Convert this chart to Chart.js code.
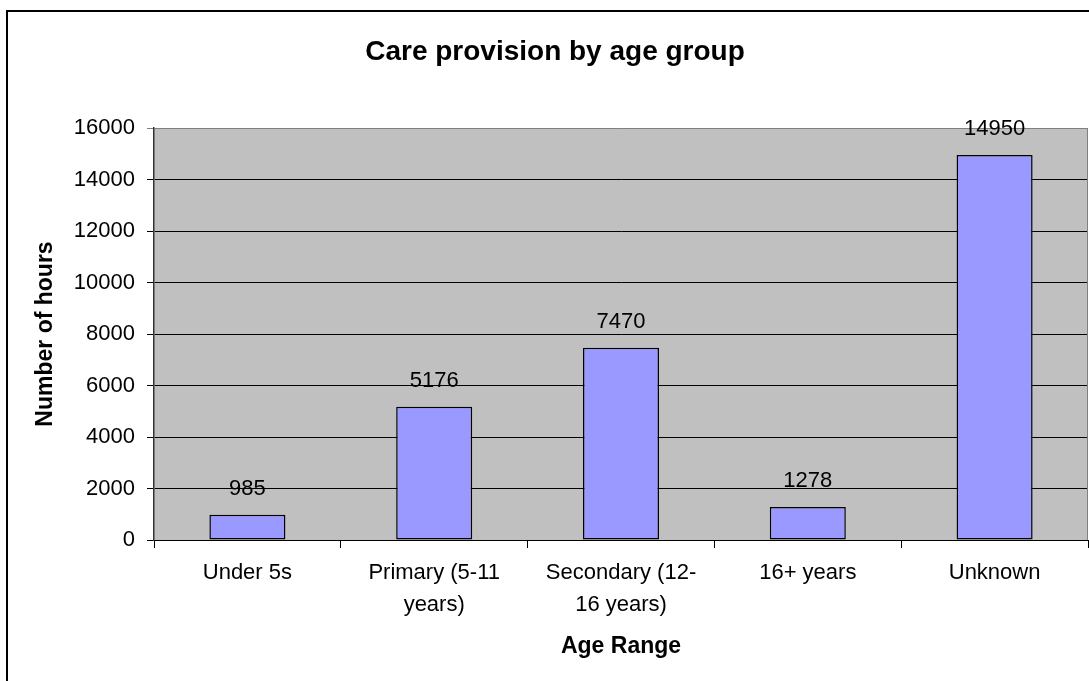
<!DOCTYPE html>
<html>
<head>
  <title>Care provision by age group</title>
  <script src="https://cdn.jsdelivr.net/npm/chart.js"></script>
  <style>
    body { margin: 0; background: #fff; }
    #wrap { width: 1089px; height: 681px; }
  </style>
</head>
<body>

<div id="wrap"><canvas id="careChart" width="1089" height="681"></canvas></div>

<script>
  // hours of care per age range
  const ageRanges = [
    'Under 5s',
    ['Primary (5-11', 'years)'],
    ['Secondary (12-', '16 years)'],
    '16+ years',
    'Unknown'
  ];
  const hours = [985, 5176, 7470, 1278, 14950];
  const yMax = 16000;
  const yStep = 2000;

  Chart.defaults.font.family = 'Arial, "Liberation Sans", sans-serif';
  Chart.defaults.color = '#000';

  // grey plot background, grey frame, outer border
  const frame = {
    id: 'frame',
    beforeDraw(chart) {
      const { ctx, chartArea: a } = chart;
      ctx.save();
      ctx.fillStyle = '#fff';
      ctx.fillRect(0, 0, chart.width, chart.height);
      ctx.fillStyle = '#c0c0c0';
      ctx.fillRect(a.left, a.top, a.right - a.left, a.bottom - a.top);
      ctx.restore();
    },
    beforeDatasetsDraw(chart) {
      const { ctx, chartArea: a } = chart;
      ctx.save();
      ctx.strokeStyle = '#808080';
      ctx.lineWidth = 1;
      ctx.beginPath();
      ctx.moveTo(a.right - 0.5, a.top);
      ctx.lineTo(a.right - 0.5, a.bottom);
      ctx.stroke();
      ctx.restore();
    },
    afterDraw(chart) {
      const ctx = chart.ctx;
      ctx.save();
      ctx.strokeStyle = '#000';
      ctx.lineWidth = 2;
      ctx.beginPath();
      ctx.moveTo(7, chart.height);
      ctx.lineTo(7, 11);
      ctx.lineTo(chart.width, 11);
      ctx.stroke();
      ctx.restore();
    }
  };

  // value above each bar
  const barValues = {
    id: 'barValues',
    afterDatasetsDraw(chart) {
      const ctx = chart.ctx;
      const meta = chart.getDatasetMeta(0);
      ctx.save();
      ctx.font = '22px Arial, "Liberation Sans", sans-serif';
      ctx.fillStyle = '#000';
      ctx.textAlign = 'center';
      ctx.textBaseline = 'middle';
      meta.data.forEach((bar, i) => {
        ctx.fillText(hours[i], bar.x, bar.y - 26);
      });
      ctx.restore();
    }
  };

  new Chart(document.getElementById('careChart'), {
    type: 'bar',
    data: {
      labels: ageRanges,
      datasets: [{
        data: hours,
        backgroundColor: '#9999ff',
        borderColor: '#000',
        borderWidth: 1.5,
        borderSkipped: false,
        barPercentage: 0.407,
        categoryPercentage: 1
      }]
    },
    options: {
      responsive: false,
      animation: false,
      layout: { padding: { left: 22, right: 1, top: 0, bottom: 0 } },
      plugins: {
        legend: { display: false },
        tooltip: { enabled: false },
        title: {
          display: true,
          text: 'Care provision by age group',
          color: '#000',
          font: { size: 28, weight: 'bold' },
          padding: { top: 35, bottom: 59.4 }
        }
      },
      scales: {
        x: {
          afterFit(scale) { scale.height = 141; },
          grid: {
            drawOnChartArea: false,
            tickLength: 8,
            color: '#000'
          },
          border: { color: '#000', width: 1 },
          ticks: {
            font: { size: 22, lineHeight: 1.45 },
            padding: 9,
            maxRotation: 0,
            autoSkip: false
          },
          title: {
            display: true,
            text: 'Age Range',
            font: { size: 23, weight: 'bold' },
            padding: { top: 0, bottom: 21 }
          }
        },
        y: {
          min: 0,
          max: yMax,
          afterFit(scale) { scale.width = 132; },
          grid: {
            tickLength: 7,
            color: ctx => ctx.tick && ctx.tick.value === yMax ? '#808080' : '#000'
          },
          border: { color: '#333', width: 1.5 },
          ticks: {
            stepSize: yStep,
            font: { size: 22 },
            padding: 12,
            callback: v => String(v)
          },
          title: {
            display: true,
            text: 'Number of hours',
            font: { size: 23, weight: 'bold' },
            padding: { top: 10, bottom: 0 }
          }
        }
      }
    },
    plugins: [frame, barValues]
  });
</script>

</body>
</html>
